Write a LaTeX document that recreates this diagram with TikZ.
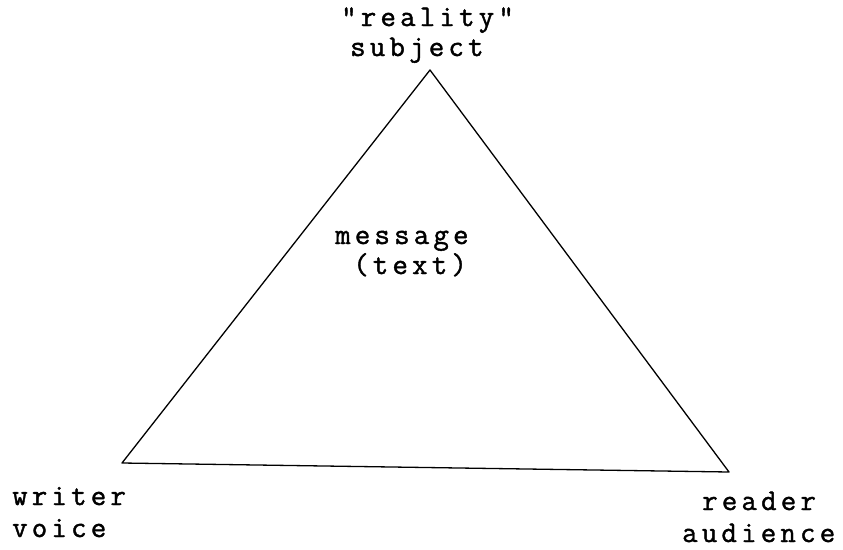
\documentclass[tikz,border=0pt]{standalone}
\usepackage{fontspec}
\newfontfamily\typewr[LetterSpace=14,FakeBold=1.4]{Latin Modern Mono}
\begin{document}
\begin{tikzpicture}[x=1pt,y=-1pt,
  lbl/.style={anchor=base west,inner sep=0pt,font=\fontsize{30}{34}\selectfont\typewr},
  edge/.style={line width=1.3pt,line join=round}]
\useasboundingbox (0,0) rectangle (843,549);
\coordinate (S) at (430,70);
\coordinate (W) at (122,463);
\coordinate (R) at (729,472);
\draw[edge] (S) -- (R) -- (W) -- cycle;
\node[lbl] (real) at (341,26) {"reality"};
\node[lbl] (subj) at (350,56) {subject};
\node[lbl] (msg) at (335,244) {message};
\node[lbl] (txt) at (353,274) {(text)};
\node[lbl] (wr) at (12,505) {writer};
\node[lbl] (vo) at (12,537) {voice};
\node[lbl] (re) at (702,510) {reader};
\node[lbl] (au) at (682,542) {audience};
\end{tikzpicture}
\end{document}
